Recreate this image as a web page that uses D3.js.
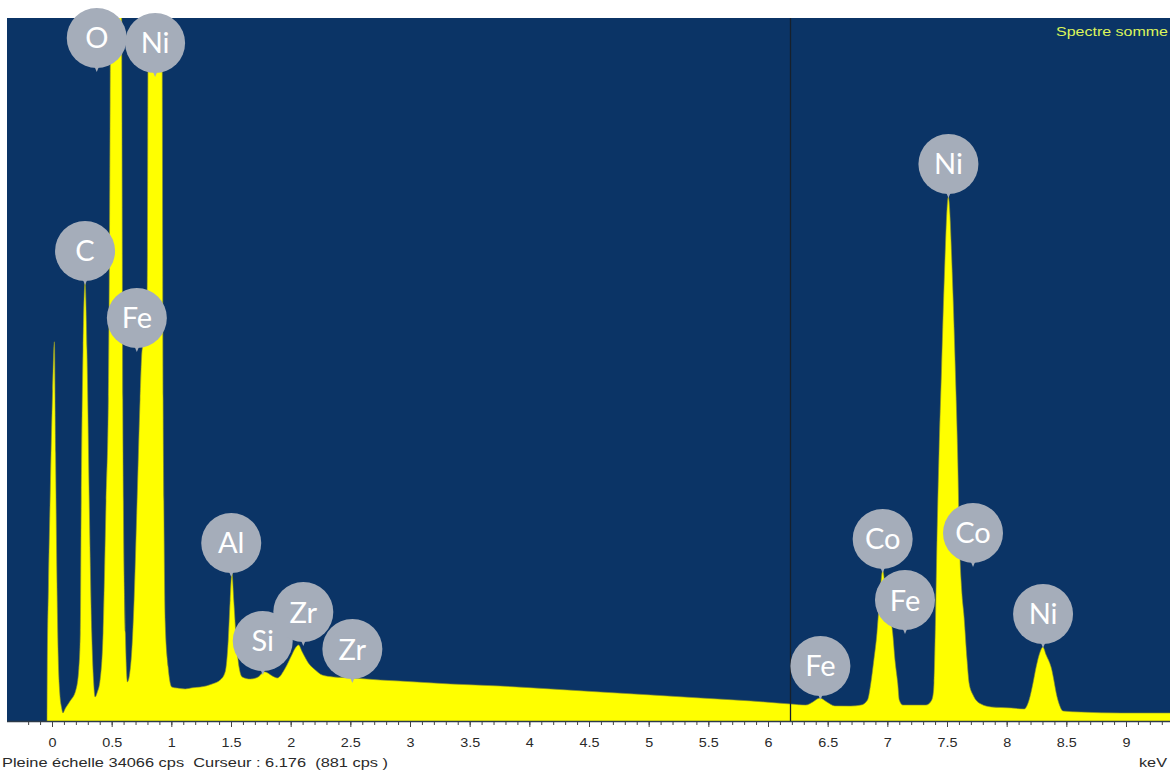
<!DOCTYPE html>
<html><head><meta charset="utf-8">
<script src="https://cdn.jsdelivr.net/npm/d3@7"></script>
<style>html,body{margin:0;padding:0;background:#fff;}svg{display:block;}</style>
</head><body>
<script>
// ---- data ----
const fullScaleCps = 34066;
const cursorKeV = 6.176;
const cursorCps = 881;
const spectrumTitle = "Spectre somme";
const unitLabel = "keV";
// spectrum: [energy keV, counts cps]
const spectrum = [
 [-0.042,0],[-0.040,2500],[-0.030,6500],[-0.015,11000],[0.005,16000],[0.020,18400],[0.030,13000],[0.040,7500],[0.052,3200],[0.065,1400],[0.080,700],[0.092,440],[0.110,640],[0.150,1000],[0.200,1550],[0.225,2600],[0.237,4300],[0.245,10700],[0.260,18000],[0.277,21250],[0.293,18000],[0.312,10700],[0.333,4300],[0.348,2030],[0.361,1210],[0.380,1450],[0.403,2030],[0.428,4300],[0.453,10700],[0.472,15600],[0.487,30000],[0.503,60000],[0.537,100000],[0.570,60000],[0.585,32000],[0.593,15600],[0.598,10700],[0.615,4300],[0.632,1940],[0.663,3000],[0.688,5900],[0.713,10700],[0.738,15600],[0.755,18000],[0.784,18700],[0.797,20400],[0.805,33500],[0.822,60000],[0.864,100000],[0.906,60000],[0.923,33500],[0.931,15600],[0.937,10700],[0.948,4900],[0.973,2660],[1.004,1690],[1.050,1640],[1.116,1600],[1.180,1660],[1.242,1690],[1.342,1840],[1.409,2030],[1.451,2420],[1.477,3970],[1.493,5900],[1.508,7210],[1.523,5900],[1.544,3970],[1.569,2610],[1.594,2180],[1.661,2080],[1.728,2180],[1.780,2430],[1.846,2230],[1.888,2130],[1.955,2610],[2.005,3190],[2.039,3580],[2.066,3730],[2.097,3390],[2.148,2860],[2.206,2520],[2.265,2270],[2.357,2180],[2.525,2130],[2.752,2030],[2.919,1980],[3.339,1840],[3.758,1740],[4.178,1600],[4.597,1450],[5.017,1310],[5.436,1160],[5.856,1020],[6.191,870],[6.317,820],[6.376,970],[6.434,1160],[6.493,970],[6.560,780],[6.694,770],[6.779,820],[6.834,1070],[6.862,1890],[6.887,3000],[6.913,4300],[6.934,5900],[6.950,6970],[6.961,7350],[6.980,6630],[7.013,5420],[7.045,4300],[7.064,3000],[7.087,1890],[7.100,1070],[7.130,820],[7.324,820],[7.366,1000],[7.383,1310],[7.391,1890],[7.404,5080],[7.416,8800],[7.433,13000],[7.454,17000],[7.475,21050],[7.511,25400],[7.548,21050],[7.570,17000],[7.589,13000],[7.604,8800],[7.623,6390],[7.643,5080],[7.668,3000],[7.685,1890],[7.718,1310],[7.785,870],[7.869,730],[8.037,680],[8.146,630],[8.188,1070],[8.221,1890],[8.247,2660],[8.280,3390],[8.303,3630],[8.331,3240],[8.372,2660],[8.429,1070],[8.473,530],[8.624,480],[8.960,435],[9.379,435]
];
// element labels
const labelText   = ["O","Ni","C","Fe","Al","Si","Zr","Zr","Fe","Co","Fe","Co","Ni","Ni"];
const labelKeV    = [0.375,0.864,0.277,0.711,1.502,1.766,2.106,2.517,6.439,6.961,7.148,7.718,8.305,7.512];
const labelCps    = [33100,32860,22790,19550,8660,3920,5320,3530,2710,8860,5900,9150,5230,27000];
// axis
const majorTicks  = [0,0.5,1,1.5,2,2.5,3,3.5,4,4.5,5,5.5,6,6.5,7,7.5,8,8.5,9];
const tickLabels  = ["0","0.5","1","1.5","2","2.5","3","3.5","4","4.5","5","5.5","6","6.5","7","7.5","8","8.5","9"];
const minorTicks  = d3.range(-2, 94).map(i => i / 10);

// ---- drawing ----
const W = 1170, H = 774;
const panel = {x0: 7, x1: 1170, y0: 18, y1: 722};
const svg = d3.select("body").append("svg").attr("width", W).attr("height", H);
svg.append("rect").attr("width", W).attr("height", H).attr("fill", "#fff");

const x = d3.scaleLinear().domain([0, 9]).range([52, 1126]);
const y = d3.scaleLinear().domain([0, fullScaleCps]).range([panel.y1, panel.y0]);

svg.append("clipPath").attr("id", "clip").append("rect")
  .attr("x", panel.x0).attr("y", panel.y0)
  .attr("width", panel.x1 - panel.x0).attr("height", panel.y1 - panel.y0);

svg.append("rect").attr("x", panel.x0).attr("y", panel.y0)
  .attr("width", panel.x1 - panel.x0).attr("height", panel.y1 - panel.y0)
  .attr("fill", "#0b3466");

const area = d3.area().x(d => x(d[0])).y0(y(0)).y1(d => y(d[1])).curve(d3.curveMonotoneX);
const g = svg.append("g").attr("clip-path", "url(#clip)");
g.append("path").datum(spectrum).attr("d", area)
  .attr("fill", "#ffff00").attr("stroke", "#8a9030").attr("stroke-width", 0.6);

// cursor
g.append("line").attr("x1", x(cursorKeV) + 1.5).attr("x2", x(cursorKeV) + 1.5)
  .attr("y1", panel.y0).attr("y2", panel.y1)
  .attr("stroke", "#17202c").attr("stroke-width", 1.3);

// bottom edge line of panel
svg.append("line").attr("x1", panel.x0).attr("x2", panel.x1)
  .attr("y1", panel.y1 - 0.5).attr("y2", panel.y1 - 0.5)
  .attr("stroke", "#2c3a48").attr("stroke-width", 1.5);

// axes
const axMinor = svg.append("g").attr("transform", `translate(0,${panel.y1})`)
  .call(d3.axisBottom(x).tickValues(minorTicks).tickSize(3).tickFormat(""));
axMinor.select(".domain").remove();
axMinor.selectAll("line").attr("stroke", "#444");

const axMajor = svg.append("g").attr("transform", `translate(0,${panel.y1})`)
  .call(d3.axisBottom(x).tickValues(majorTicks).tickSize(5).tickFormat((d, i) => tickLabels[i]));
axMajor.select(".domain").remove();
axMajor.selectAll("line").attr("stroke", "#444");
axMajor.selectAll("text").attr("y", 25).attr("dy", null)
  .attr("transform", "scale(1.2,1)")
  .attr("fill", "#2a2a2a").style("font-family", "'Liberation Sans', Arial, sans-serif").style("font-size", "12px");

// unit
svg.append("text").attr("x", 1167).attr("y", 767).attr("text-anchor", "end")
  .attr("fill", "#2a2a2a").style("font-family", "'Liberation Sans', Arial, sans-serif").style("font-size", "13px")
  .attr("textLength", 28).attr("lengthAdjust", "spacingAndGlyphs").text(unitLabel);

// status line
svg.append("text").attr("x", 2).attr("y", 767)
  .attr("fill", "#2a2a2a").style("font-family", "'Liberation Sans', Arial, sans-serif").style("font-size", "13px")
  .attr("textLength", 386).attr("lengthAdjust", "spacingAndGlyphs")
  .attr("xml:space", "preserve").style("white-space", "pre")
  .text(`Pleine échelle ${fullScaleCps} cps  Curseur : ${cursorKeV}  (${cursorCps} cps )`);

// title
svg.append("text").attr("x", 1168).attr("y", 36).attr("text-anchor", "end")
  .attr("fill", "#dcf55a").style("font-family", "'Liberation Sans', Arial, sans-serif").style("font-size", "13px")
  .attr("textLength", 112).attr("lengthAdjust", "spacingAndGlyphs").text(spectrumTitle);

// labels
const labels = labelText.map((t, i) => ({t, e: labelKeV[i], c: labelCps[i]}));
const lg = svg.append("g").selectAll("g").data(labels).join("g")
  .attr("transform", d => `translate(${x(d.e)},${y(d.c)})`);
lg.append("path").attr("d", "M-2.5,28 L2.5,28 L0,34 Z").attr("fill", "#a5adba");
lg.append("circle").attr("r", 30).attr("fill", "#a5adba");
lg.append("text").attr("text-anchor", "middle").attr("dy", "0.36em")
  .attr("fill", "#ffffff").style("font-family", "Lato, 'Open Sans', sans-serif").style("font-size", "29px")
  .text(d => d.t);
</script>
</body></html>
